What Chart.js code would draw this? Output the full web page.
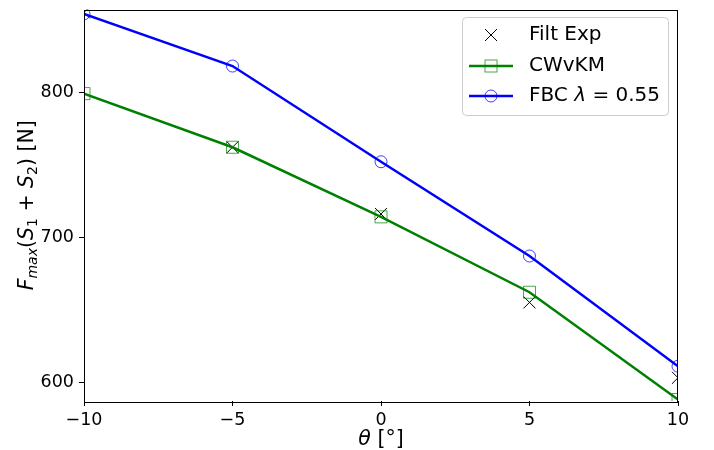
<!DOCTYPE html>
<html lang="en">
<head>
  <meta charset="UTF-8" />
  <title>Fmax vs theta</title>
  <script src="https://cdn.jsdelivr.net/npm/chart.js"></script>
  <style>
    html, body { margin: 0; padding: 0; background: #fff; }
    #wrap { width: 714px; height: 450px; }
  </style>
</head>
<body>
  <div id="wrap"><canvas id="chart" width="714" height="450"></canvas></div>

  <script>
    // values
    const theta = [-10, -5, 0, 5, 10];
    const filtExp = [855, 762, 716, 655, 603];
    const cwvkm = [799, 762, 714, 662, 588];
    const fbc = [854, 818, 752, 687, 611];
    const yTicks = [600, 700, 800];
    const xTicks = [-10, -5, 0, 5, 10];

    const FONT = "'DejaVu Sans', sans-serif";
    const pts = (ys) => theta.map((t, i) => ({ x: t, y: ys[i] }));

    // draw a run of [text, style, size, dy] pieces starting at x, baseline y
    function drawRuns(ctx, runs, x, y) {
      runs.forEach(r => {
        ctx.font = r[1] + ' ' + r[2] + 'px ' + FONT;
        ctx.fillText(r[0], x, y + r[3]);
        x += ctx.measureText(r[0]).width;
      });
    }
    function runsWidth(ctx, runs) {
      let w = 0;
      runs.forEach(r => {
        ctx.font = r[1] + ' ' + r[2] + 'px ' + FONT;
        w += ctx.measureText(r[0]).width;
      });
      return w;
    }

    const decor = {
      id: 'decor',
      afterDraw(chart) {
        const ctx = chart.ctx;
        const a = chart.chartArea;
        ctx.save();
        // frame
        ctx.strokeStyle = '#000';
        ctx.lineWidth = 1;
        ctx.strokeRect(Math.round(a.left) + 0.5, Math.round(a.top) + 0.5,
          Math.round(a.right - a.left) - 1, Math.round(a.bottom - a.top));
        ctx.fillStyle = '#000';
        ctx.textBaseline = 'alphabetic';

        // x title
        const xr = [['\u03B8', 'italic', 20.5, 0], [' [\u00B0]', 'normal', 20.5, 0]];
        drawRuns(ctx, xr, (a.left + a.right) / 2 - runsWidth(ctx, xr) / 2, 445);

        // y title
        const yr = [
          ['F', 'italic', 20.5, 0], ['max', 'italic', 14, 4], ['(', 'normal', 20.5, 0],
          ['S', 'italic', 20.5, 0], ['1', 'normal', 14, 4], [' + ', 'normal', 20.5, 0],
          ['S', 'italic', 20.5, 0], ['2', 'normal', 14, 4], [')', 'normal', 20.5, 0],
          [' [N]', 'normal', 20.5, 0]
        ];
        ctx.save();
        ctx.translate(33, (a.top + a.bottom) / 2);
        ctx.rotate(-Math.PI / 2);
        drawRuns(ctx, yr, -runsWidth(ctx, yr) / 2, 0);
        ctx.restore();

        // legend
        ctx.beginPath();
        ctx.roundRect(462.5, 17.5, 206, 98, 4);
        ctx.fillStyle = 'rgba(255,255,255,0.8)';
        ctx.fill();
        ctx.strokeStyle = '#cccccc';
        ctx.stroke();

        const mx = 491;
        const rows = [35, 66, 96];
        // Filt Exp
        ctx.strokeStyle = '#000';
        ctx.lineWidth = 1;
        ctx.beginPath();
        ctx.moveTo(mx - 6, rows[0] - 6); ctx.lineTo(mx + 6, rows[0] + 6);
        ctx.moveTo(mx - 6, rows[0] + 6); ctx.lineTo(mx + 6, rows[0] - 6);
        ctx.stroke();
        // CWvKM
        ctx.strokeStyle = '#008000';
        ctx.lineWidth = 2.5;
        ctx.beginPath(); ctx.moveTo(469, rows[1]); ctx.lineTo(513, rows[1]); ctx.stroke();
        ctx.lineWidth = 1;
        ctx.strokeStyle = 'rgba(0,128,0,0.7)';
        ctx.strokeRect(mx - 6, rows[1] - 6, 12, 12);
        // FBC
        ctx.strokeStyle = '#0000ff';
        ctx.lineWidth = 2.5;
        ctx.beginPath(); ctx.moveTo(469, rows[2]); ctx.lineTo(513, rows[2]); ctx.stroke();
        ctx.lineWidth = 1;
        ctx.strokeStyle = 'rgba(0,0,255,0.75)';
        ctx.beginPath(); ctx.arc(mx, rows[2], 6, 0, Math.PI * 2); ctx.stroke();

        ctx.fillStyle = '#000';
        ctx.textBaseline = 'middle';
        drawRuns(ctx, [['Filt Exp', 'normal', 20, 0]], 529, rows[0]);
        drawRuns(ctx, [['CWvKM', 'normal', 20, 0]], 529, rows[1]);
        drawRuns(ctx, [['FBC ', 'normal', 20, 0], ['\u03BB', 'italic', 20, 0],
          [' = 0.55', 'normal', 20, 0]], 529, rows[2]);
        ctx.restore();
      }
    };

    new Chart(document.getElementById('chart'), {
      type: 'line',
      data: {
        datasets: [
          {
            label: 'FBC \u03BB = 0.55',
            data: pts(fbc),
            borderColor: '#0000ff',
            borderWidth: 2.5,
            pointStyle: 'circle',
            pointRadius: 6,
            pointBorderWidth: 1,
            pointBorderColor: 'rgba(0,0,255,0.75)',
            pointBackgroundColor: 'rgba(0,0,0,0)',
            clip: 0,
            order: 1
          },
          {
            label: 'CWvKM',
            data: pts(cwvkm),
            borderColor: '#008000',
            borderWidth: 2.5,
            pointStyle: 'rect',
            pointRadius: 8.5,
            pointBorderWidth: 1,
            pointBorderColor: 'rgba(0,128,0,0.7)',
            pointBackgroundColor: 'rgba(0,0,0,0)',
            clip: 0,
            order: 2
          },
          {
            label: 'Filt Exp',
            data: pts(filtExp),
            showLine: false,
            borderColor: '#000',
            pointStyle: 'crossRot',
            pointRadius: 8.5,
            pointBorderWidth: 1,
            pointBorderColor: '#000',
            clip: 0,
            order: 3
          }
        ]
      },
      options: {
        responsive: false,
        animation: false,
        events: [],
        layout: { padding: { left: 0, right: 36, top: 7, bottom: 0 } },
        plugins: { legend: { display: false }, tooltip: { enabled: false } },
        scales: {
          x: {
            type: 'linear',
            min: -10,
            max: 10,
            afterBuildTicks: s => { s.ticks = xTicks.map(v => ({ value: v })); },
            afterFit: s => { s.height = 49; s.paddingLeft = 0; s.paddingRight = 0; },
            border: { display: false },
            grid: { drawOnChartArea: false, tickLength: 5, tickColor: '#000', tickWidth: 1 },
            ticks: {
              color: '#000',
              padding: 4,
              font: { family: FONT, size: 17.5 },
              callback: v => (v < 0 ? '\u2212' + Math.abs(v) : String(v))
            }
          },
          y: {
            type: 'linear',
            min: 587,
            max: 857,
            afterBuildTicks: s => { s.ticks = yTicks.map(v => ({ value: v })); },
            afterFit: s => { s.width = 84; s.paddingTop = 0; s.paddingBottom = 0; },
            border: { display: false },
            grid: { drawOnChartArea: false, tickLength: 5, tickColor: '#000', tickWidth: 1 },
            ticks: {
              color: '#000',
              padding: 5,
              font: { family: FONT, size: 17.5 }
            }
          }
        }
      },
      plugins: [decor]
    });
  </script>
</body>
</html>
